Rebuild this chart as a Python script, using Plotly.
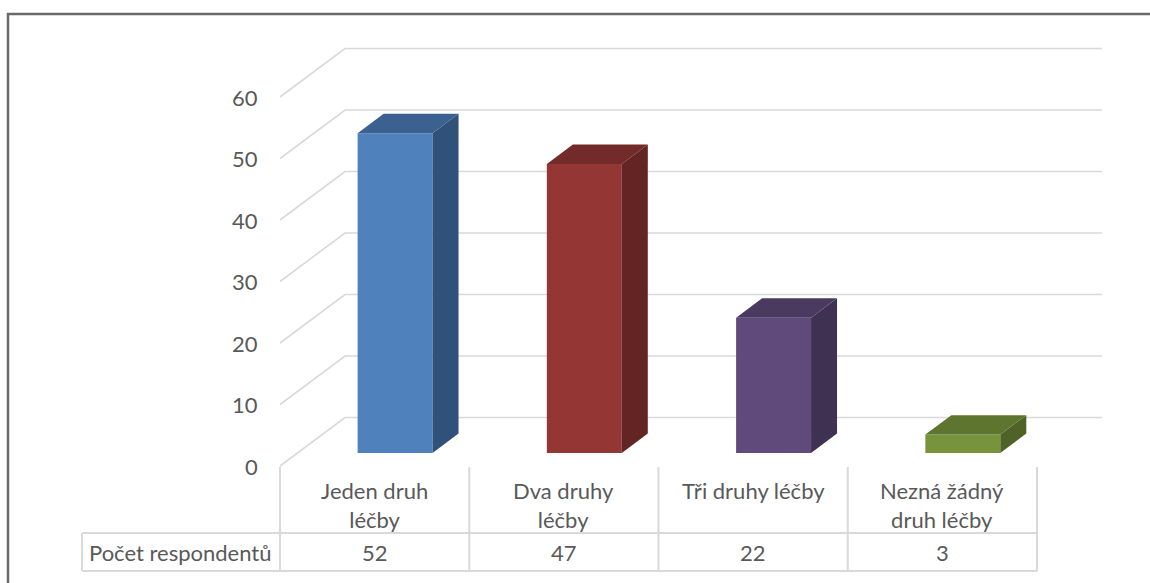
import plotly.graph_objects as go

# ---- data ----
categories = ["Jeden druh<br>léčby", "Dva druhy<br>léčby", "Tři druhy léčby", "Nezná žádný<br>druh léčby"]
values = [52, 47, 22, 3]
row_title = "Počet respondentů"
y_ticks = [0, 10, 20, 30, 40, 50, 60]

front_colors = ["#4F81BD", "#943634", "#604A7B", "#77933C"]
side_colors = ["#30527A", "#632523", "#3F3151", "#4F6228"]
top_colors = ["#3A6190", "#722B29", "#4A3A60", "#5E7530"]

# ---- canvas / projection setup ----
W, H = 1150, 583
PX_PER_CAT = 189.25          # pixels per category slot
PX_PER_VAL = 6.15            # pixels per value unit
X_LEFT_PX, Y_ZERO_PX = 280, 466

X0 = -0.5 - X_LEFT_PX / PX_PER_CAT
X1 = X0 + W / PX_PER_CAT
Y1 = Y_ZERO_PX / PX_PER_VAL
Y0 = Y1 - H / PX_PER_VAL

DX = 65 / PX_PER_CAT         # oblique depth shift in x
DY = 48.5 / PX_PER_VAL       # oblique depth shift in y
D_FRONT, D_BACK = 0.268, 0.668
BAR_W = 0.396
BAR_SHIFT = 0.016            # columns sit slightly right of slot centre


def proj(x, v, d):
    return x + d * DX, v + d * DY


def py(p):
    """pixel row -> paper y"""
    return 1 - p / H


GRID = "#D9D9D9"
TEXT = "#595959"
FONT = "Lato"
FS = 22

fig = go.Figure()
shapes = []

# back wall and side wall gridlines (kept underneath the columns)
n = len(categories)
for t in y_ticks:
    xa, ya = proj(-0.5, t, 0)
    xb, yb = proj(-0.5, t, 1)
    xc, yc = proj(n - 0.5, t, 1)
    shapes.append(dict(type="path", xref="x", yref="y", layer="below",
                       path=f"M{xa},{ya} L{xb},{yb} L{xc},{yc}",
                       line=dict(color=GRID, width=1.6)))
    fig.add_annotation(x=xa, y=ya, text=str(t), showarrow=False,
                       xanchor="right", yanchor="middle", xshift=-20,
                       font=dict(family=FONT, size=FS, color=TEXT))

# columns: front faces as bars, side/top faces as filled polygons
for i, v in enumerate(values):
    c = i + BAR_SHIFT
    xl, xr = c - BAR_W / 2, c + BAR_W / 2
    fx, fb = proj(c, 0, D_FRONT)
    fig.add_trace(go.Bar(x=[fx], y=[v], base=[fb], width=[BAR_W],
                         marker=dict(color=front_colors[i], line=dict(width=0)),
                         hoverinfo="skip", showlegend=False))
    # right side face
    pts = [proj(xr, 0, D_FRONT), proj(xr, 0, D_BACK), proj(xr, v, D_BACK), proj(xr, v, D_FRONT)]
    fig.add_trace(go.Scatter(x=[p[0] for p in pts] + [pts[0][0]],
                             y=[p[1] for p in pts] + [pts[0][1]],
                             fill="toself", fillcolor=side_colors[i], mode="lines",
                             line=dict(width=0, color=side_colors[i]),
                             hoverinfo="skip", showlegend=False))
    # top face
    pts = [proj(xl, v, D_FRONT), proj(xr, v, D_FRONT), proj(xr, v, D_BACK), proj(xl, v, D_BACK)]
    fig.add_trace(go.Scatter(x=[p[0] for p in pts] + [pts[0][0]],
                             y=[p[1] for p in pts] + [pts[0][1]],
                             fill="toself", fillcolor=top_colors[i], mode="lines",
                             line=dict(width=0, color=top_colors[i]),
                             hoverinfo="skip", showlegend=False))

# ---- data table under the plot ----
ROW1_TOP, ROW2_TOP, ROW2_BOT = 467, 533, 571
TABLE_LEFT_PX = 82
tbl = dict(color="#D9D9D9", width=2)
# vertical dividers between category cells
for k in range(n + 1):
    xk = k - 0.5
    shapes.append(dict(type="line", xref="x", yref="paper", x0=xk, x1=xk,
                       y0=py(ROW1_TOP), y1=py(ROW2_BOT), line=tbl))
# horizontal rules of the value row
for r in (ROW2_TOP, ROW2_BOT):
    shapes.append(dict(type="line", xref="paper", yref="paper",
                       x0=TABLE_LEFT_PX / W, x1=(X_LEFT_PX + n * PX_PER_CAT) / W,
                       y0=py(r), y1=py(r), line=tbl))
shapes.append(dict(type="line", xref="paper", yref="paper",
                   x0=TABLE_LEFT_PX / W, x1=TABLE_LEFT_PX / W,
                   y0=py(ROW2_TOP), y1=py(ROW2_BOT), line=tbl))
# outer chart frame
shapes.append(dict(type="rect", xref="paper", yref="paper",
                   x0=8 / W, x1=1.05, y0=-0.05, y1=py(14),
                   line=dict(color="#6A6A6A", width=2.5)))

for i, (c, v) in enumerate(zip(categories, values)):
    fig.add_annotation(x=i, y=py(475), yref="paper", text=c, showarrow=False,
                       xanchor="center", yanchor="top", align="center",
                       font=dict(family=FONT, size=FS, color=TEXT))
    fig.add_annotation(x=i, y=py((ROW2_TOP + ROW2_BOT) / 2), yref="paper", text=str(v),
                       showarrow=False, xanchor="center", yanchor="middle",
                       font=dict(family=FONT, size=FS, color=TEXT))
fig.add_annotation(x=(TABLE_LEFT_PX + 5) / W, xref="paper",
                   y=py((ROW2_TOP + ROW2_BOT) / 2), yref="paper", text=row_title,
                   showarrow=False, xanchor="left", yanchor="middle",
                   font=dict(family=FONT, size=FS, color=TEXT))

fig.update_layout(
    width=W, height=H,
    margin=dict(l=0, r=0, t=0, b=0),
    paper_bgcolor="white", plot_bgcolor="white",
    xaxis=dict(range=[X0, X1], visible=False, fixedrange=True),
    yaxis=dict(range=[Y0, Y1], visible=False, fixedrange=True),
    shapes=shapes, barmode="overlay", showlegend=False,
)

fig.write_html("out.html")
